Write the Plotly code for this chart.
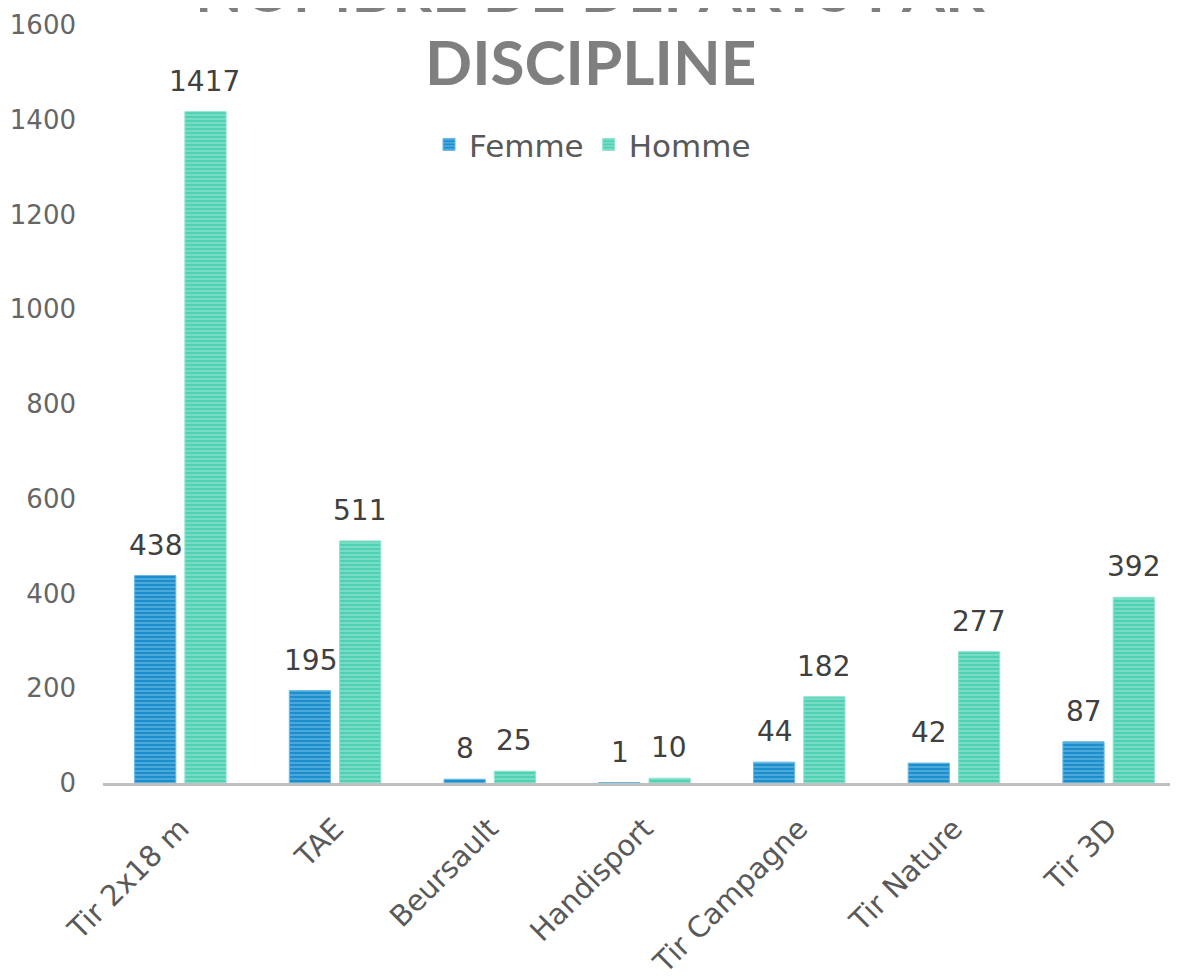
import plotly.graph_objects as go

disciplines = ["Tir 2x18 m", "TAE", "Beursault", "Handisport", "Tir Campagne", "Tir Nature", "Tir 3D"]
femme = [438, 195, 8, 1, 44, 42, 87]
homme = [1417, 511, 25, 10, 182, 277, 392]
title_lines = ["NOMBRE DE DÉPARTS PAR", "DISCIPLINE"]

FONT = "DejaVu Sans"
TITLE_FONT = "Lato"

fig = go.Figure()
fig.add_trace(go.Bar(
    x=disciplines, y=femme, name="Femme",
    marker=dict(color="#1b8fce", line=dict(width=1, color="#6ab8e3"),
                pattern=dict(shape="-", fgcolor="#a9d6f0", bgcolor="#1b8fce", size=4, solidity=0.35)),
))
fig.add_trace(go.Bar(
    x=disciplines, y=homme, name="Homme",
    marker=dict(color="#4fd1b3", line=dict(width=1, color="#8fe3cf"),
                pattern=dict(shape="-", fgcolor="#c4f1e6", bgcolor="#4fd1b3", size=4, solidity=0.35)),
))

# data labels above each bar (kept at full size)
for vals, shift in ((femme, -24.5), (homme, 24.5)):
    for cat, v in zip(disciplines, vals):
        fig.add_annotation(x=cat, y=v, text=str(v), showarrow=False,
                           xanchor="center", yanchor="bottom", xshift=shift, yshift=12,
                           font=dict(size=28, color="#404040", family=FONT))

# title, two lines (top line runs off the top edge like the original)
for line, ypos in zip(title_lines, (1.0488, 0.953)):
    fig.add_annotation(
        text=f"<b>{line}</b>",
        xref="paper", yref="paper", x=0.45, y=ypos,
        xanchor="center", yanchor="middle", showarrow=False,
        font=dict(size=62, color="#7f7f7f", family=TITLE_FONT),
    )

fig.update_layout(
    width=1178, height=980,
    margin=dict(l=95, r=0, t=17, b=205),
    paper_bgcolor="white", plot_bgcolor="white",
    barmode="group", bargap=0.35, bargroupgap=0.18,
    font=dict(family=FONT, color="#595959"),
    showlegend=True,
    legend=dict(orientation="h", x=0.452, xanchor="center", y=0.842, yanchor="middle",
                font=dict(size=31, color="#595959"), traceorder="normal"),
)
fig.update_yaxes(range=[0, 1600], dtick=200, showgrid=False, zeroline=False,
                 tickfont=dict(size=26, color="#666666"), ticks="", ticklen=0,
                 ticklabelstandoff=26)
fig.update_xaxes(showline=True, linecolor="#bfbfbf", linewidth=3, tickangle=-45,
                 tickfont=dict(size=29, color="#595959"),
                 ticks="outside", ticklen=14, tickcolor="rgba(0,0,0,0)")

fig.write_html("out.html")
